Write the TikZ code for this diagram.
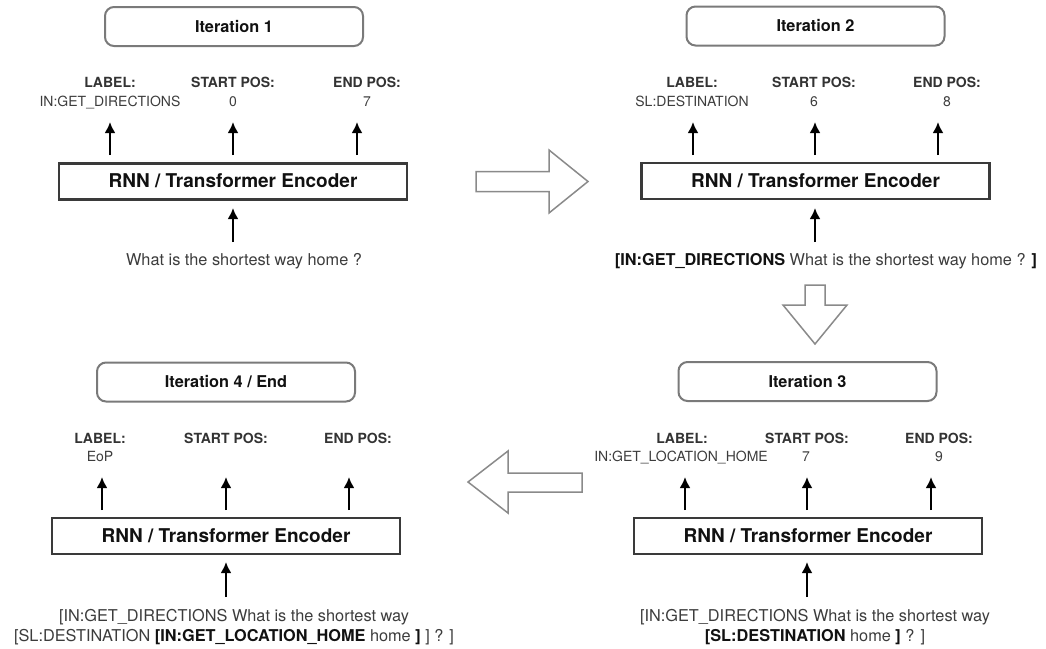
\documentclass[tikz,border=0pt]{standalone}
\usepackage{fontspec}
\setmainfont{TeX Gyre Heros}
\usetikzlibrary{arrows.meta}
\definecolor{boxgray}{HTML}{7A7A7A}
\definecolor{encline}{HTML}{3A3A3A}
\definecolor{hollowgray}{HTML}{8A8A8A}
\definecolor{hdrtext}{HTML}{333333}
\definecolor{valtext}{HTML}{3C3C3C}
\definecolor{darktext}{HTML}{111111}
\tikzset{
  titlebox/.style={draw=boxgray, line width=2pt, rounded corners=9pt,
    minimum width=258pt, minimum height=39pt, inner sep=0pt,
    text=darktext, font=\bfseries\fontsize{16.3}{19}\selectfont},
  encbox/.style={draw=encline, line width=2.5pt, minimum width=348pt,
    minimum height=36pt, inner sep=0pt, text height=12.5pt, text depth=0pt,
    text=darktext, font=\bfseries\fontsize{19}{22}\selectfont},
  hdr/.style={anchor=base, inner sep=0pt, text=hdrtext,
    font=\bfseries\fontsize{14}{16}\selectfont},
  val/.style={anchor=base, inner sep=0pt, text=valtext,
    font=\fontsize{14}{16}\selectfont},
  inp/.style={anchor=base, inner sep=0pt, text=valtext,
    font=\fontsize{16.3}{20}\selectfont},
  upar/.style={-{Latex[length=11pt,width=11pt]}, line width=2.8pt, black},
  hollow/.style={draw=hollowgray, line width=1.5pt, fill=white, line join=miter}
}
\newcommand{\bt}[1]{{\bfseries\color{darktext}#1}}
\begin{document}
\begin{tikzpicture}[x=1pt,y=-1pt]
\useasboundingbox (0,0) rectangle (1046,648);

% ---------- Iteration 1 ----------
\node[titlebox] (t1) at (234,26.5) {Iteration 1};
\node[hdr] (h1a) at (110,87.5) {LABEL:};
\node[val] (v1a) at (110,106) {IN:GET\_DIRECTIONS};
\node[hdr] (h1b) at (233,87.5) {START POS:};
\node[val] (v1b) at (233,106) {0};
\node[hdr] (h1c) at (367,87.5) {END POS:};
\node[val] (v1c) at (367,106) {7};
\node[encbox] (e1) at (233,181.5) {RNN / Transformer Encoder};
\node[inp] (i1) at (244,265.5) {What is the shortest way home ?};
\coordinate (s1a) at (110,155); \coordinate (u1a) at (110,122);
\coordinate (s1b) at (233,155); \coordinate (u1b) at (233,122);
\coordinate (s1c) at (357,155); \coordinate (u1c) at (357,122);
\coordinate (q1) at (233,242);  \coordinate (r1) at (233,208);
\draw[upar] (s1a) -- (u1a);
\draw[upar] (s1b) -- (u1b);
\draw[upar] (s1c) -- (u1c);
\draw[upar] (q1) -- (r1);

% ---------- Iteration 2 ----------
\node[titlebox] (t2) at (815.5,26) {Iteration 2};
\node[hdr] (h2a) at (692,87.5) {LABEL:};
\node[val] (v2a) at (692,106) {SL:DESTINATION};
\node[hdr] (h2b) at (814,87.5) {START POS:};
\node[val] (v2b) at (814,106) {6};
\node[hdr] (h2c) at (947,87.5) {END POS:};
\node[val] (v2c) at (947,106) {8};
\node[encbox] (e2) at (815.5,181) {RNN / Transformer Encoder};
\node[inp] (i2) at (826,265.5) {\bt{[IN:GET\_DIRECTIONS} What is the shortest way home ? \bt{]}};
\coordinate (s2a) at (693,155); \coordinate (u2a) at (693,122);
\coordinate (s2b) at (815,155); \coordinate (u2b) at (815,122);
\coordinate (s2c) at (938,155); \coordinate (u2c) at (938,122);
\coordinate (q2) at (815,242);  \coordinate (r2) at (815,208);
\draw[upar] (s2a) -- (u2a);
\draw[upar] (s2b) -- (u2b);
\draw[upar] (s2c) -- (u2c);
\draw[upar] (q2) -- (r2);

% ---------- Iteration 3 ----------
\node[titlebox] (t3) at (807.5,381.5) {Iteration 3};
\node[hdr] (h3a) at (682,443) {LABEL:};
\node[val] (v3a) at (681,461.5) {IN:GET\_LOCATION\_HOME};
\node[hdr] (h3b) at (807,443) {START POS:};
\node[val] (v3b) at (806,461.5) {7};
\node[hdr] (h3c) at (939,443) {END POS:};
\node[val] (v3c) at (939,461.5) {9};
\node[encbox] (e3) at (808,536) {RNN / Transformer Encoder};
\node[inp] (i3a) at (815,621.5) {[IN:GET\_DIRECTIONS What is the shortest way};
\node[inp] (i3b) at (815,641.5) {\bt{[SL:DESTINATION} home \bt{]} ? ]};
\coordinate (s3a) at (685,510); \coordinate (u3a) at (685,477);
\coordinate (s3b) at (807,510); \coordinate (u3b) at (807,477);
\coordinate (s3c) at (931,510); \coordinate (u3c) at (931,477);
\coordinate (q3) at (807,597);  \coordinate (r3) at (807,562);
\draw[upar] (s3a) -- (u3a);
\draw[upar] (s3b) -- (u3b);
\draw[upar] (s3c) -- (u3c);
\draw[upar] (q3) -- (r3);

% ---------- Iteration 4 / End ----------
\node[titlebox] (t4) at (226,382) {Iteration 4 / End};
\node[hdr] (h4a) at (100,443) {LABEL:};
\node[val] (v4a) at (100,461.5) {EoP};
\node[hdr] (h4b) at (226,443) {START POS:};
\node[hdr] (h4c) at (358,443) {END POS:};
\node[encbox] (e4) at (226,536) {RNN / Transformer Encoder};
\node[inp] (i4a) at (234,621.5) {[IN:GET\_DIRECTIONS What is the shortest way};
\node[inp] (i4b) at (234,641.5) {[SL:DESTINATION \bt{[IN:GET\_LOCATION\_HOME} home \bt{]} ] ? ]};
\coordinate (s4a) at (102,510); \coordinate (u4a) at (102,477);
\coordinate (s4b) at (226,510); \coordinate (u4b) at (226,477);
\coordinate (s4c) at (349,510); \coordinate (u4c) at (349,477);
\coordinate (q4) at (226,597);  \coordinate (r4) at (226,562);
\draw[upar] (s4a) -- (u4a);
\draw[upar] (s4b) -- (u4b);
\draw[upar] (s4c) -- (u4c);
\draw[upar] (q4) -- (r4);

% ---------- hollow block arrows between iterations ----------
\draw[hollow] (476,171.5) -- (549,171.5) -- (549,150) -- (588,181.5)
  -- (549,213) -- (549,191.5) -- (476,191.5) -- cycle;
\draw[hollow] (805,285) -- (825,285) -- (825,305) -- (847,305)
  -- (815,344) -- (783,305) -- (805,305) -- cycle;
\draw[hollow] (582,473) -- (508,473) -- (508,451) -- (468,482)
  -- (508,513) -- (508,492) -- (582,492) -- cycle;
\end{tikzpicture}
\end{document}
